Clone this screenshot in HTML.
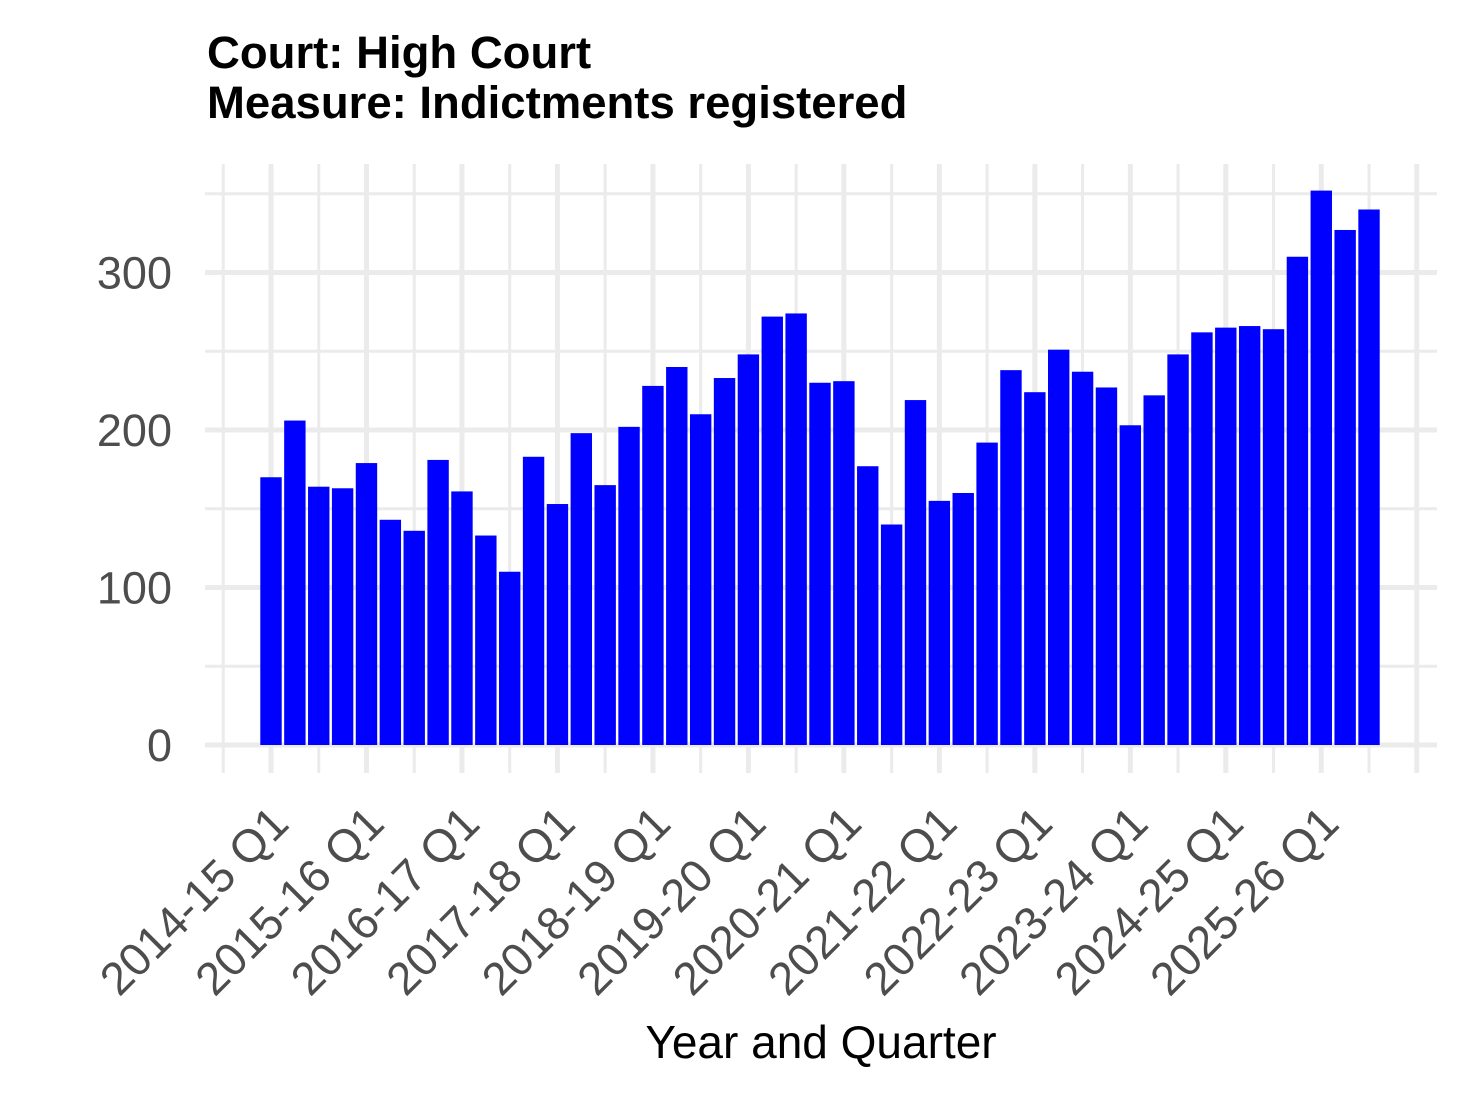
<!DOCTYPE html>
<html><head><style>body{margin:0;background:#fff}svg{display:block}</style></head><body>
<svg width="1472" height="1104" xmlns="http://www.w3.org/2000/svg" font-family="Liberation Sans, Arial, sans-serif">
<rect width="1472" height="1104" fill="#fff"/>
<g id="grid"></g>
<g id="bars"></g>
<g id="labels"></g>
<text x="207" y="68" font-size="45.5" font-weight="bold" fill="#000">Court: High Court</text>
<text x="207" y="118" font-size="45.5" font-weight="bold" fill="#000">Measure: Indictments registered</text>
<text x="821" y="1058" font-size="46" text-anchor="middle" fill="#000">Year and Quarter</text>
<script>
const NS="http://www.w3.org/2000/svg";
function el(p,t,a,txt){const e=document.createElementNS(NS,t);for(const k in a)e.setAttribute(k,a[k]);if(txt!==undefined)e.textContent=txt;document.getElementById(p).appendChild(e);}
const y0=745,s=1.575,x0=271,dx=23.87;
for(let v=0;v<=350;v+=50){const y=y0-v*s;el('grid','line',{x1:205,x2:1437,y1:y,y2:y,stroke:'#ebebeb','stroke-width':v%100==0?5:3});}
for(let i=-2;i<=48;i+=2){const x=x0+i*dx;el('grid','line',{x1:x,x2:x,y1:164,y2:773,stroke:'#ebebeb','stroke-width':i%4==0?5:3});}
const d=[170,206,164,163,179,143,136,181,161,133,110,183,153,198,165,202,228,240,210,233,248,272,274,230,231,177,140,219,155,160,192,238,224,251,237,227,203,222,248,262,265,266,264,310,352,327,340];
d.forEach((v,i)=>{const x=x0+i*dx;el('bars','rect',{x:x-10.7,y:y0-v*s,width:21.4,height:v*s,fill:'#0000ff'});});
[0,100,200,300].forEach(v=>el('labels','text',{x:172,y:y0-v*s+16,'font-size':45,'text-anchor':'end',fill:'#4d4d4d'},String(v)));
for(let k=0;k<12;k++){const x=x0+k*4*dx+20,y=826;const yr=2014+k;
el('labels','text',{x:x,y:y,'font-size':46,'text-anchor':'end',fill:'#4d4d4d',transform:`rotate(-45 ${x} ${y})`},`${yr}-${String((yr+1)%100).padStart(2,'0')} Q1`);}
</script>
</svg>
</body></html>
